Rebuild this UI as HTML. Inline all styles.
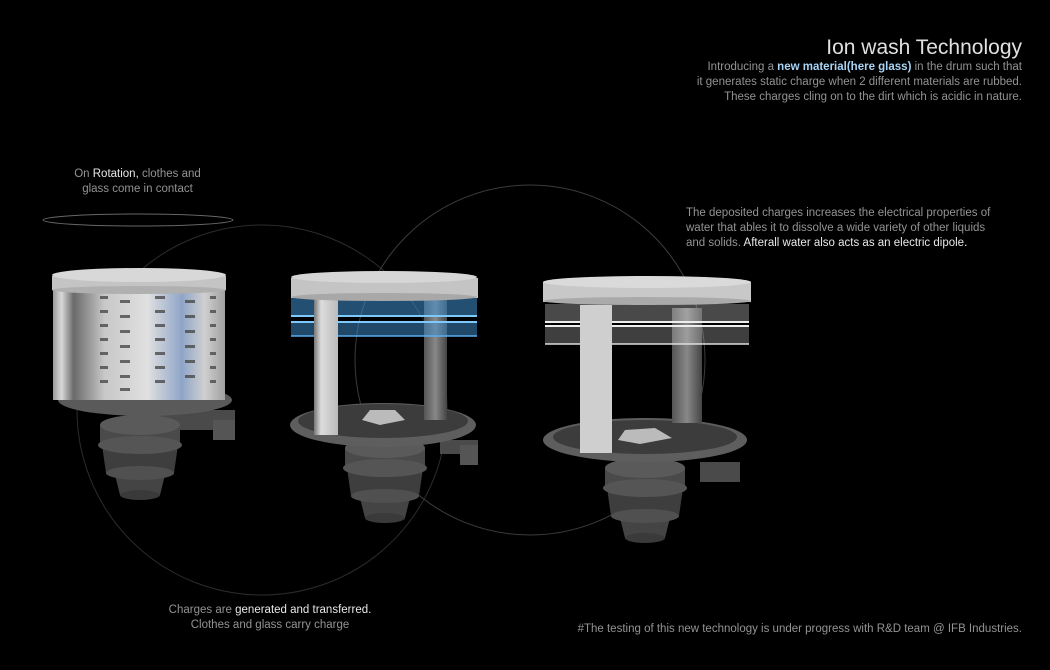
<!DOCTYPE html>
<html><head><meta charset="utf-8"><style>
html,body{margin:0;padding:0;background:#000;}
body{width:1050px;height:670px;position:relative;overflow:hidden;font-family:"Liberation Sans",sans-serif;color:#939393;}
.t{position:absolute;font-size:11.5px;line-height:15px;white-space:nowrap;}
b{font-weight:normal;color:#e8e8e8;}
</style></head><body>
<svg width="1050" height="670" style="position:absolute;left:0;top:0">
<defs>
<linearGradient id="steel" x1="0" x2="1">
<stop offset="0" stop-color="#9a9a9a"/><stop offset="0.05" stop-color="#d8d8d8"/><stop offset="0.12" stop-color="#6a6a6a"/>
<stop offset="0.3" stop-color="#c8c8c8"/><stop offset="0.55" stop-color="#e0e0e0"/><stop offset="0.75" stop-color="#8fa5c8"/>
<stop offset="0.88" stop-color="#d0d0d0"/><stop offset="1" stop-color="#a0a0a0"/></linearGradient>
<linearGradient id="pole" x1="0" x2="1"><stop offset="0" stop-color="#777"/><stop offset="0.3" stop-color="#ddd"/><stop offset="1" stop-color="#bbb"/></linearGradient>
<linearGradient id="pole2" x1="0" x2="1"><stop offset="0" stop-color="#555"/><stop offset="0.5" stop-color="#888"/><stop offset="1" stop-color="#444"/></linearGradient>
<g id="motor">
<rect x="-40" y="0" width="80" height="22" fill="#4a4a4a"/>
<ellipse cx="0" cy="0" rx="40" ry="10" fill="#5a5a5a"/>
<path d="M-38 20 L38 20 L34 48 L-34 48 Z" fill="#3e3e3e"/>
<ellipse cx="0" cy="20" rx="42" ry="9" fill="#555"/>
<path d="M-26 46 L26 46 L20 70 L-20 70 Z" fill="#444"/>
<ellipse cx="0" cy="48" rx="34" ry="7" fill="#505050"/>
<ellipse cx="0" cy="70" rx="20" ry="5" fill="#3a3a3a"/>
</g>
</defs>
<circle cx="262" cy="410" r="185" fill="none" stroke="#2c2c2c" stroke-width="1"/>
<circle cx="530" cy="360" r="175" fill="none" stroke="#3c3c3c" stroke-width="1"/>
<ellipse cx="138" cy="220" rx="95" ry="6" fill="none" stroke="#666" stroke-width="1"/>

<!-- drum 1 -->
<rect x="150" y="410" width="85" height="20" fill="#4a4a4a"/>
<rect x="213" y="420" width="22" height="20" fill="#555"/>
<use href="#motor" x="140" y="425"/>
<ellipse cx="145" cy="400" rx="87" ry="16" fill="#5a5a5a"/>
<rect x="53" y="286" width="172" height="114" fill="url(#steel)"/>
<g fill="#4a4a4a" opacity="0.8">
<rect x="100" y="296" width="8" height="3"/><rect x="120" y="300" width="10" height="3"/><rect x="155" y="296" width="10" height="3"/><rect x="185" y="300" width="10" height="3"/><rect x="210" y="296" width="6" height="3"/>
<rect x="100" y="310" width="8" height="3"/><rect x="120" y="315" width="10" height="3"/><rect x="155" y="310" width="10" height="3"/><rect x="185" y="315" width="10" height="3"/><rect x="210" y="310" width="6" height="3"/>
<rect x="100" y="324" width="8" height="3"/><rect x="120" y="330" width="10" height="3"/><rect x="155" y="324" width="10" height="3"/><rect x="185" y="330" width="10" height="3"/><rect x="210" y="324" width="6" height="3"/>
<rect x="100" y="338" width="8" height="3"/><rect x="120" y="345" width="10" height="3"/><rect x="155" y="338" width="10" height="3"/><rect x="185" y="345" width="10" height="3"/><rect x="210" y="338" width="6" height="3"/>
<rect x="100" y="352" width="8" height="3"/><rect x="120" y="360" width="10" height="3"/><rect x="155" y="352" width="10" height="3"/><rect x="185" y="360" width="10" height="3"/><rect x="210" y="352" width="6" height="3"/>
<rect x="100" y="366" width="8" height="3"/><rect x="120" y="375" width="10" height="3"/><rect x="155" y="366" width="10" height="3"/><rect x="185" y="375" width="10" height="3"/><rect x="210" y="366" width="6" height="3"/>
<rect x="100" y="380" width="8" height="3"/><rect x="120" y="388" width="10" height="3"/><rect x="155" y="380" width="10" height="3"/><rect x="210" y="380" width="6" height="3"/>
</g>
<rect x="52" y="276" width="174" height="14" fill="#c4c4c4"/>
<ellipse cx="139" cy="290" rx="87" ry="4" fill="#b0b0b0"/>
<ellipse cx="139" cy="275" rx="87" ry="7" fill="#d8d8d8"/>

<!-- drum 2 -->
<rect x="440" y="440" width="38" height="14" fill="#4a4a4a"/>
<rect x="460" y="445" width="18" height="20" fill="#555"/>
<use href="#motor" x="385" y="448"/>
<ellipse cx="383" cy="425" rx="93" ry="22" fill="#5e5e5e"/>
<ellipse cx="383" cy="421" rx="85" ry="17" fill="#3c3c3c"/>
<path d="M370 410 L395 410 L405 420 L380 425 L362 420 Z" fill="#bbb"/>
<rect x="424" y="300" width="23" height="120" fill="url(#pole2)"/>
<rect x="291" y="298" width="186" height="18" fill="#3f8fd0" opacity="0.55"/>
<rect x="291" y="322" width="186" height="14" fill="#3f8fd0" opacity="0.5"/>
<line x1="291" y1="316" x2="477" y2="316" stroke="#7cc8ff" stroke-width="2"/>
<line x1="291" y1="322" x2="477" y2="322" stroke="#7cc8ff" stroke-width="2"/>
<line x1="291" y1="336" x2="477" y2="336" stroke="#5aaef0" stroke-width="1.5"/>
<rect x="314" y="298" width="24" height="137" fill="url(#pole)"/>
<rect x="291" y="278" width="187" height="20" fill="#c4c4c4"/>
<ellipse cx="384" cy="297" rx="93" ry="4" fill="#a8a8a8"/>
<ellipse cx="384" cy="277" rx="93" ry="6" fill="#d6d6d6"/>

<!-- drum 3 -->
<rect x="700" y="462" width="40" height="20" fill="#4a4a4a"/>
<use href="#motor" x="645" y="468"/>
<ellipse cx="645" cy="440" rx="102" ry="22" fill="#5e5e5e"/>
<ellipse cx="645" cy="437" rx="92" ry="17" fill="#3c3c3c"/>
<path d="M625 430 L655 428 L672 438 L640 444 L618 440 Z" fill="#bbb"/>
<rect x="672" y="308" width="30" height="115" fill="url(#pole2)"/>
<rect x="545" y="304" width="204" height="18" fill="#d0d0d0" opacity="0.35"/>
<rect x="545" y="326" width="204" height="18" fill="#d0d0d0" opacity="0.3"/>
<line x1="545" y1="322" x2="749" y2="322" stroke="#eee" stroke-width="2"/>
<line x1="545" y1="326" x2="749" y2="326" stroke="#eee" stroke-width="2"/>
<line x1="545" y1="344" x2="749" y2="344" stroke="#ddd" stroke-width="1.5"/>
<rect x="580" y="305" width="32" height="148" fill="#cfcfcf"/>
<rect x="543" y="282" width="208" height="20" fill="#c8c8c8"/>
<ellipse cx="647" cy="301" rx="104" ry="4" fill="#aaa"/>
<ellipse cx="647" cy="282" rx="104" ry="6" fill="#dadada"/>
</svg>

<div class="t" style="right:28px;top:36px;font-size:21px;line-height:24px;color:#e0e0e0;">Ion wash Technology</div>
<div class="t" style="right:28px;top:60px;text-align:right;">Introducing a <b style="color:#a8d4f5;font-weight:bold">new material(here glass)</b> in the drum such that<br>it generates static charge when 2 different materials are rubbed.<br>These charges cling on to the dirt which is acidic in nature.</div>
<div class="t" style="left:60px;top:167px;width:155px;text-align:center;">On <b>Rotation,</b> clothes and<br>glass come in contact</div>
<div class="t" style="left:686px;top:206px;">The deposited charges increases the electrical properties of<br>water that ables it to dissolve a wide variety of other liquids<br>and solids. <b>Afterall water also acts as an electric dipole.</b></div>
<div class="t" style="left:140px;top:603px;width:260px;text-align:center;">Charges are <b>generated and transferred.</b><br>Clothes and glass carry charge</div>
<div class="t" style="right:28px;top:622px;">#The testing of this new technology is under progress with R&amp;D team @ IFB Industries.</div>
</body></html>
